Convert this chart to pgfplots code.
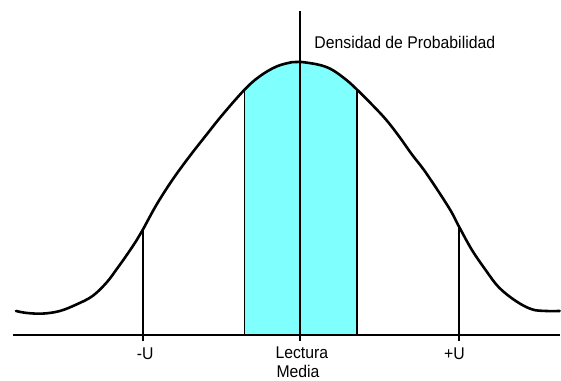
\documentclass[border=0pt]{standalone}
\usepackage{fontspec}
\setmainfont{Liberation Sans}[FakeStretch=0.93]
\usepackage{pgfplots}
\pgfplotsset{compat=1.18}
\definecolor{bandcyan}{RGB}{128,255,255}

\begin{document}
\begin{tikzpicture}[lbl/.style={inner sep=0pt, anchor=base west, font=\fontsize{17bp}{19bp}\selectfont}]
\begin{axis}[
    width=561bp, height=381bp, scale only axis,
    xmin=0, xmax=561, ymin=0, ymax=381,
    y dir=reverse,
    hide axis, clip=false,
]
    % keep the page the size of the reference
    \addplot[draw=none] coordinates {(0,0) (561,381)};

    % shaded band round the mean reading
    \addplot[fill=bandcyan, draw=none, smooth, tension=0.6] coordinates {
        (245,90) (260,76.7) (277,66.7) (293,62.3) (301,62) (320,65)
        (333,70) (347,80) (357.5,89.5)
    } -- (axis cs:357.5,336) -- (axis cs:245,336) -- cycle;

    % base line
    \addplot[black, line width=1.8bp] coordinates {(13,336) (561,336)};

    % verticals: -U, band edges, mean, +U
    \addplot[black, line width=1.8bp] coordinates {(143,230) (143,342)};
    \addplot[black, line width=1.8bp] coordinates {(460,227) (460,342)};
    \addplot[black, line width=1.8bp] coordinates {(245,90) (245,336)};
    \addplot[black, line width=1.8bp] coordinates {(357.5,89.5) (357.5,336)};
    \addplot[black, line width=1.8bp] coordinates {(301,11) (301,342)};

    % probability density curve
    \addplot[black, line width=2.6bp, smooth, tension=0.6, line join=round, line cap=round] coordinates {
        (16,311.7) (27,313.7) (43,314.3) (60,311.7) (77,305) (93,296.5)
        (107,283) (117,269.7) (127,255.7) (137,240.7) (143,230.5) (157,205)
        (173,180) (190,156.7) (207,135) (223,115) (245,90) (260,76.7)
        (277,66.7) (293,62.3) (301,62) (320,65) (333,70) (347,80)
        (357.5,89.5) (373,105) (387,120) (400,136.7) (413,155) (427,173.3)
        (450,208.3) (460,227) (473,250.5) (487,271) (500,288) (517,301.7)
        (533,310) (547,311.7) (561,311.7)
    };

    \node[lbl] at (axis cs:315,49) {Densidad de Probabilidad};
    \node[lbl] at (axis cs:137,360) {-U};
    \node[lbl] at (axis cs:445,360) {+U};
    \node[lbl] at (axis cs:276,359) {Lectura};
    \node[lbl] at (axis cs:277,378) {Media};
\end{axis}
\end{tikzpicture}
\end{document}
